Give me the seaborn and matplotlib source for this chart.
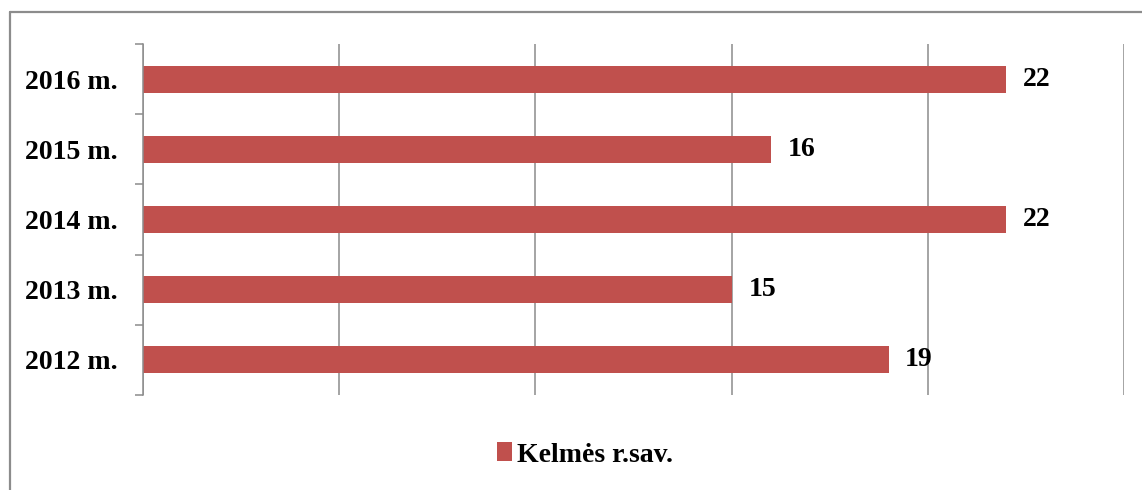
import matplotlib
matplotlib.use("Agg")
import matplotlib.pyplot as plt
from matplotlib.lines import Line2D
from matplotlib.patches import Patch
import seaborn as sns
import pandas as pd

years = ["2016 m.", "2015 m.", "2014 m.", "2013 m.", "2012 m."]
values = [22, 16, 22, 15, 19]
series_name = "Kelmės r.sav."
xticks = [0, 5, 10, 15, 20, 25]

sns.set_style("white")
plt.rcParams["font.family"] = ["Liberation Serif", "DejaVu Serif"]
plt.rcParams["font.weight"] = "bold"
plt.rcParams["text.color"] = "black"
plt.rcParams["ytick.color"] = "black"
plt.rcParams["ytick.labelcolor"] = "black"

BAR = "#C0504D"
GRID = "#8C8C8C"
FS = 20

df = pd.DataFrame({"year": years, "value": values})

fig = plt.figure(figsize=(11.42, 4.90), dpi=100)
ax = fig.add_axes([143/1142, 1-395/490, (1124-143)/1142, (395-44)/490])

sns.barplot(data=df, x="value", y="year", orient="h", color=BAR, saturation=1,
            width=0.386, ax=ax, order=years, edgecolor="none")

ax.set_xlim(0, 25)
ax.set_ylim(4.5, -0.5)
ax.set_xticks(xticks)
ax.xaxis.grid(True, color=GRID, linewidth=1.1)
ax.yaxis.grid(False)
ax.set_axisbelow(True)
ax.tick_params(axis="x", bottom=False, labelbottom=False)
ax.set_xlabel("")
ax.set_ylabel("")

for s in ["top", "right", "bottom"]:
    ax.spines[s].set_visible(False)
ax.spines["left"].set_color(GRID)
ax.spines["left"].set_linewidth(1.1)

ax.set_yticks(range(len(years)))
ax.set_yticklabels(years, fontsize=FS, fontweight="bold", color="black")
ax.tick_params(axis="y", which="major", length=0, pad=18)
ax.set_yticks([i - 0.5 for i in range(len(years) + 1)], minor=True)
ax.tick_params(axis="y", which="minor", length=6, width=1.1, color=GRID, left=True)

for c in ax.containers:
    ax.bar_label(c, labels=[str(v) for v in values], padding=12,
                 fontsize=FS, fontweight="bold", color="black")

handle = Patch(facecolor=BAR, edgecolor="none")
fig.legend([handle], [series_name], loc="center", bbox_to_anchor=(585/1142, 1-455/490),
           frameon=False, prop={"size": FS, "weight": "bold"},
           handlelength=0.55, handleheight=0.65, handletextpad=0.2, labelcolor="black")

# outer chart border (partially visible)
fig.add_artist(Line2D([10/1142, 1.0], [1-12/490, 1-12/490], transform=fig.transFigure,
                      color=GRID, linewidth=1.6))
fig.add_artist(Line2D([10/1142, 10/1142], [1-12/490, 0.0], transform=fig.transFigure,
                      color=GRID, linewidth=1.6))

fig.savefig("out.png", dpi=100)
